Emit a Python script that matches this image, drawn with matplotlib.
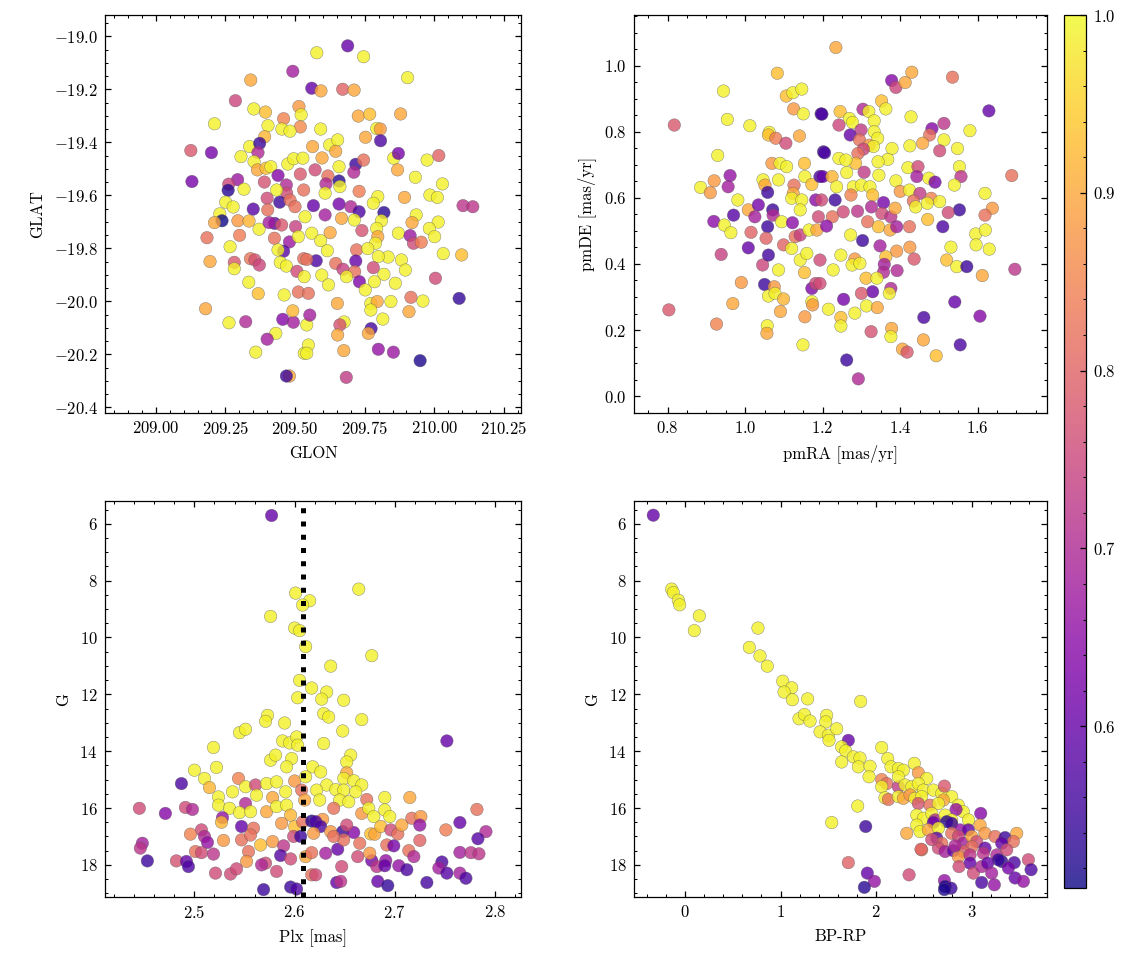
import numpy as np
import matplotlib as mpl
import matplotlib.pyplot as plt

mpl.rcParams.update({
    'font.family': 'serif',
    'font.serif': ['cmr10'],
    'mathtext.fontset': 'cm',
    'axes.formatter.use_mathtext': True,
    'axes.formatter.useoffset': False,
    'font.size': 8,
    'axes.linewidth': 0.6,
    'xtick.direction': 'in',
    'ytick.direction': 'in',
    'xtick.top': True,
    'ytick.right': True,
    'xtick.minor.visible': True,
    'ytick.minor.visible': True,
    'xtick.major.size': 3,
    'ytick.major.size': 3,
    'xtick.minor.size': 1.5,
    'ytick.minor.size': 1.5,
    'xtick.major.width': 0.6,
    'ytick.major.width': 0.6,
    'xtick.minor.width': 0.5,
    'ytick.minor.width': 0.5,
})

# ---- sky positions (GLON, GLAT) and membership probability ----
glon = [
    209.492, 209.341, 209.286, 209.352, 209.394, 209.211, 209.459, 209.514, 209.522, 209.403,
    209.519, 209.453, 209.482, 209.391, 209.126, 209.200, 209.337, 209.373, 209.367, 209.306,
    209.353, 209.130, 209.294, 209.262, 209.260, 209.317, 209.251, 209.278, 209.365, 209.396,
    209.413, 209.390, 209.439, 209.474, 209.495, 209.528, 209.519, 209.469, 209.470, 209.400,
    209.445, 209.402, 209.350, 209.434, 209.482, 209.500, 209.531, 209.230, 209.238, 209.211,
    209.295, 209.335, 209.371, 209.427, 209.407, 209.452, 209.502, 209.536, 209.184, 209.301,
    209.267, 209.426, 209.480, 209.512, 209.459, 209.439, 209.195, 209.282, 209.282, 209.340,
    209.356, 209.372, 209.447, 209.469, 209.507, 209.531, 209.533, 209.334, 209.368, 209.461,
    209.512, 209.179, 209.263, 209.323, 209.456, 209.494, 209.492, 209.431, 209.400, 209.359,
    209.480, 209.469, 209.533, 209.542,
    209.578, 209.689, 209.746, 209.904, 209.560, 209.593, 209.671, 209.712, 209.727, 209.768,
    209.879, 209.592, 209.793, 209.806, 209.753, 209.807, 209.563, 209.624, 209.653, 209.646,
    209.597, 209.854, 209.871, 209.868, 209.718, 209.746, 209.711, 209.974, 210.016, 209.932,
    210.029, 209.572, 209.658, 209.618, 209.658, 209.611, 209.661, 209.730, 209.797, 209.781,
    209.893, 209.984, 210.011, 210.103, 210.138, 209.566, 209.608, 209.658, 209.700, 209.730,
    209.819, 209.608, 209.667, 209.713, 209.810, 209.935, 209.920, 210.014, 209.982, 209.793,
    209.871, 209.913, 209.925, 209.953, 210.001, 209.740, 209.797, 209.626, 209.560, 209.592,
    209.789, 210.032, 210.098, 209.616, 209.721, 209.761, 209.834, 209.799, 209.882, 209.896,
    209.576, 209.542, 209.646, 209.672, 209.718, 209.714, 209.781, 209.819, 209.731, 209.752,
    209.785, 209.860, 209.596, 209.620, 209.685, 210.004, 209.548, 209.652, 209.772, 209.795,
    209.844, 209.772, 209.916, 209.959, 209.909, 210.089, 209.553, 209.676, 209.661, 209.653,
    209.815, 209.773, 209.763, 209.799, 209.853, 209.675, 209.949, 209.548, 209.542, 209.684,
]
glat = [
    -19.132, -19.165, -19.243, -19.274, -19.286, -19.330, -19.311, -19.265, -19.296, -19.337,
    -19.342, -19.350, -19.358, -19.379, -19.431, -19.439, -19.416, -19.404, -19.439, -19.454,
    -19.473, -19.548, -19.541, -19.558, -19.581, -19.577, -19.626, -19.644, -19.504, -19.498,
    -19.492, -19.550, -19.525, -19.482, -19.462, -19.460, -19.520, -19.561, -19.592, -19.611,
    -19.626, -19.655, -19.652, -19.580, -19.618, -19.643, -19.580, -19.670, -19.696, -19.703,
    -19.696, -19.697, -19.728, -19.706, -19.703, -19.712, -19.718, -19.681, -19.760, -19.751,
    -19.794, -19.762, -19.776, -19.756, -19.811, -19.806, -19.850, -19.853, -19.877, -19.839,
    -19.844, -19.863, -19.853, -19.867, -19.887, -19.839, -19.907, -19.928, -19.971, -19.976,
    -19.965, -20.028, -20.081, -20.077, -20.068, -20.079, -20.036, -20.121, -20.143, -20.192,
    -20.282, -20.282, -20.196, -20.089,
    -19.062, -19.036, -19.077, -19.156, -19.196, -19.206, -19.200, -19.203, -19.301, -19.294,
    -19.293, -19.350, -19.348, -19.350, -19.381, -19.394, -19.416, -19.410, -19.391, -19.434,
    -19.459, -19.460, -19.442, -19.504, -19.483, -19.467, -19.513, -19.467, -19.450, -19.532,
    -19.557, -19.504, -19.492, -19.527, -19.546, -19.557, -19.567, -19.585, -19.605, -19.630,
    -19.608, -19.599, -19.608, -19.639, -19.643, -19.639, -19.592, -19.633, -19.643, -19.662,
    -19.665, -19.674, -19.687, -19.693, -19.696, -19.674, -19.703, -19.701, -19.725, -19.725,
    -19.743, -19.752, -19.781, -19.777, -19.756, -19.733, -19.756, -19.741, -19.743, -19.771,
    -19.781, -19.820, -19.825, -19.809, -19.806, -19.801, -19.833, -19.831, -19.844, -19.882,
    -19.847, -19.842, -19.857, -19.879, -19.848, -19.888, -19.873, -19.898, -19.926, -19.957,
    -19.926, -19.932, -19.901, -19.938, -19.907, -19.913, -19.970, -20.008, -20.008, -20.001,
    -20.001, -20.033, -19.985, -19.999, -20.039, -19.989, -20.052, -20.078, -20.089, -20.127,
    -20.067, -20.103, -20.121, -20.181, -20.192, -20.186, -20.224, -20.165, -20.196, -20.287,
]
prob_sky = [
    0.68, 0.90, 0.75, 0.99, 0.93, 0.99, 0.85, 0.88, 0.99, 0.99,
    0.86, 0.99, 0.99, 0.92, 0.78, 0.62, 0.99, 0.55, 0.70, 0.99,
    0.99, 0.62, 0.67, 0.75, 0.53, 0.99, 0.99, 0.99, 0.90, 0.93,
    0.99, 0.77, 0.64, 0.99, 0.99, 0.99, 0.78, 0.70, 0.76, 0.76,
    0.55, 0.82, 0.58, 0.99, 0.82, 0.82, 0.82, 0.99, 0.51, 0.90,
    0.88, 0.92, 0.99, 0.60, 0.68, 0.78, 0.74, 0.99, 0.82, 0.84,
    0.99, 0.82, 0.67, 0.99, 0.58, 0.99, 0.90, 0.78, 0.99, 0.83,
    0.77, 0.75, 0.99, 0.99, 0.76, 0.82, 0.99, 0.99, 0.93, 0.99,
    0.82, 0.90, 0.99, 0.70, 0.64, 0.68, 0.92, 0.99, 0.68, 0.99,
    0.90, 0.55, 0.99, 0.99,
    0.99, 0.60, 0.99, 0.99, 0.60, 0.90, 0.80, 0.90, 0.90, 0.93,
    0.90, 0.99, 0.99, 0.88, 0.90, 0.57, 0.90, 0.99, 0.99, 0.90,
    0.90, 0.99, 0.62, 0.90, 0.55, 0.82, 0.70, 0.99, 0.80, 0.99,
    0.99, 0.76, 0.99, 0.82, 0.53, 0.70, 0.99, 0.84, 0.99, 0.99,
    0.90, 0.99, 0.99, 0.72, 0.72, 0.60, 0.99, 0.62, 0.70, 0.57,
    0.53, 0.68, 0.90, 0.99, 0.99, 0.99, 0.90, 0.99, 0.99, 0.99,
    0.99, 0.67, 0.76, 0.84, 0.99, 0.77, 0.90, 0.90, 0.99, 0.99,
    0.99, 0.99, 0.93, 0.99, 0.82, 0.99, 0.99, 0.99, 0.99, 0.99,
    0.57, 0.82, 0.82, 0.74, 0.60, 0.82, 0.76, 0.99, 0.63, 0.99,
    0.99, 0.99, 0.99, 0.99, 0.99, 0.76, 0.82, 0.90, 0.99, 0.90,
    0.99, 0.99, 0.82, 0.99, 0.90, 0.54, 0.68, 0.99, 0.77, 0.90,
    0.99, 0.56, 0.90, 0.66, 0.67, 0.90, 0.52, 0.99, 0.99, 0.73,
]

# ---- proper motions ----
pmra = [
    1.083, 0.944, 0.817, 0.803, 0.926, 0.954, 1.012, 0.929, 0.885, 0.910,
    0.920, 0.961, 0.956, 0.919, 0.946, 0.963, 0.938, 0.990, 0.968, 0.970,
    0.981, 1.008, 1.025, 1.034, 1.015, 1.008, 1.046, 1.051, 1.058, 1.071,
    1.058, 1.072, 1.054, 1.045, 1.060, 1.050, 1.060, 1.057, 1.056, 1.075,
    1.077, 1.086, 1.099, 1.091, 1.062, 1.060, 1.079, 1.105, 1.106, 1.123,
    1.146, 1.125, 1.150, 1.140, 1.069, 1.090, 1.107, 1.086, 1.126, 1.124,
    1.120, 1.146, 1.153, 1.154, 1.172, 1.142, 1.094, 1.122, 1.099, 1.129,
    1.142, 1.120, 1.142, 1.159, 1.153, 1.172, 1.182, 1.172, 1.174, 1.154,
    1.149, 1.196, 1.193, 1.182, 1.189, 1.202, 1.165, 1.185,
    1.234, 1.378, 1.389, 1.413, 1.430, 1.535, 1.629, 1.198, 1.245, 1.304,
    1.352, 1.363, 1.319, 1.269, 1.333, 1.242, 1.277, 1.299, 1.333, 1.271,
    1.295, 1.342, 1.320, 1.331, 1.305, 1.291, 1.428, 1.482, 1.513, 1.476,
    1.580, 1.458, 1.425, 1.513, 1.502, 1.548, 1.205, 1.379, 1.368, 1.343,
    1.285, 1.242, 1.260, 1.420, 1.446, 1.443, 1.474, 1.490, 1.553, 1.557,
    1.540, 1.688, 1.200, 1.224, 1.262, 1.307, 1.345, 1.389, 1.236, 1.279,
    1.300, 1.322, 1.329, 1.400, 1.424, 1.451, 1.480, 1.470, 1.502, 1.434,
    1.440, 1.232, 1.273, 1.197, 1.619, 1.638, 1.619, 1.553, 1.524, 1.357,
    1.326, 1.290, 1.253, 1.225, 1.210, 1.353, 1.376, 1.387, 1.316, 1.344,
    1.374, 1.391, 1.424, 1.471, 1.510, 1.595, 1.620, 1.596, 1.630, 1.531,
    1.520, 1.546, 1.572, 1.612, 1.696, 1.425, 1.436, 1.391, 1.348, 1.303,
    1.272, 1.247, 1.227, 1.283, 1.276, 1.296, 1.363, 1.359, 1.357, 1.392,
    1.312, 1.329, 1.300, 1.376, 1.372, 1.340, 1.313, 1.283, 1.341, 1.215,
    1.247, 1.247, 1.254, 1.325, 1.378, 1.376, 1.460, 1.461, 1.541, 1.606,
    1.555, 1.406, 1.418, 1.493, 1.262, 1.292, 1.193, 1.193,
]
pmde = [
    0.978, 0.924, 0.821, 0.261, 0.218, 0.838, 0.819, 0.729, 0.632, 0.616,
    0.652, 0.668, 0.634, 0.529, 0.518, 0.495, 0.429, 0.344, 0.280, 0.548,
    0.594, 0.564, 0.543, 0.579, 0.496, 0.449, 0.655, 0.639, 0.617, 0.564,
    0.513, 0.548, 0.478, 0.397, 0.427, 0.338, 0.303, 0.213, 0.190, 0.331,
    0.311, 0.382, 0.294, 0.256, 0.799, 0.791, 0.781, 0.766, 0.909, 0.919,
    0.930, 0.870, 0.855, 0.788, 0.705, 0.705, 0.695, 0.655, 0.639, 0.614,
    0.599, 0.594, 0.705, 0.665, 0.641, 0.564, 0.528, 0.525, 0.458, 0.483,
    0.488, 0.447, 0.412, 0.432, 0.374, 0.326, 0.341, 0.286, 0.276, 0.240,
    0.155, 0.855, 0.665, 0.594, 0.543, 0.740, 0.503, 0.503,
    1.056, 0.956, 0.935, 0.950, 0.981, 0.966, 0.864, 0.854, 0.862, 0.869,
    0.894, 0.870, 0.862, 0.841, 0.834, 0.821, 0.829, 0.806, 0.801, 0.791,
    0.776, 0.781, 0.760, 0.756, 0.748, 0.735, 0.846, 0.810, 0.826, 0.791,
    0.804, 0.766, 0.758, 0.776, 0.743, 0.750, 0.737, 0.750, 0.717, 0.710,
    0.705, 0.720, 0.715, 0.692, 0.695, 0.665, 0.660, 0.648, 0.695, 0.665,
    0.639, 0.668, 0.665, 0.665, 0.677, 0.678, 0.669, 0.652, 0.634, 0.634,
    0.639, 0.634, 0.609, 0.620, 0.624, 0.614, 0.599, 0.584, 0.589, 0.591,
    0.573, 0.594, 0.609, 0.594, 0.614, 0.569, 0.548, 0.564, 0.556, 0.586,
    0.573, 0.560, 0.558, 0.543, 0.515, 0.553, 0.543, 0.569, 0.528, 0.513,
    0.503, 0.513, 0.513, 0.535, 0.513, 0.491, 0.503, 0.458, 0.445, 0.451,
    0.412, 0.392, 0.392, 0.365, 0.384, 0.451, 0.415, 0.439, 0.455, 0.471,
    0.488, 0.427, 0.382, 0.415, 0.397, 0.402, 0.422, 0.399, 0.375, 0.380,
    0.357, 0.316, 0.311, 0.326, 0.311, 0.357, 0.273, 0.251, 0.268, 0.263,
    0.238, 0.212, 0.293, 0.195, 0.205, 0.180, 0.170, 0.238, 0.285, 0.242,
    0.155, 0.142, 0.133, 0.122, 0.109, 0.052, 0.412, 0.341,
]
prob_pm = [
    0.93, 0.99, 0.78, 0.78, 0.85, 0.99, 0.99, 0.99, 0.99, 0.88,
    0.88, 0.66, 0.68, 0.65, 0.99, 0.99, 0.74, 0.88, 0.90, 0.58,
    0.99, 0.90, 0.68, 0.62, 0.80, 0.60, 0.99, 0.90, 0.55, 0.55,
    0.55, 0.70, 0.80, 0.75, 0.56, 0.55, 0.99, 0.99, 0.90, 0.88,
    0.99, 0.99, 0.92, 0.90, 0.99, 0.93, 0.84, 0.76, 0.93, 0.99,
    0.99, 0.88, 0.99, 0.90, 0.88, 0.99, 0.99, 0.99, 0.82, 0.90,
    0.99, 0.99, 0.93, 0.99, 0.93, 0.99, 0.99, 0.65, 0.80, 0.82,
    0.74, 0.99, 0.99, 0.99, 0.93, 0.63, 0.76, 0.99, 0.88, 0.88,
    0.99, 0.55, 0.57, 0.65, 0.76, 0.55, 0.99, 0.90,
    0.90, 0.64, 0.75, 0.90, 0.90, 0.82, 0.60, 0.57, 0.93, 0.70,
    0.93, 0.99, 0.99, 0.99, 0.99, 0.75, 0.99, 0.73, 0.99, 0.60,
    0.82, 0.99, 0.88, 0.99, 0.75, 0.82, 0.99, 0.64, 0.72, 0.82,
    0.99, 0.90, 0.99, 0.99, 0.76, 0.99, 0.57, 0.99, 0.99, 0.99,
    0.93, 0.99, 0.99, 0.99, 0.76, 0.68, 0.99, 0.62, 0.99, 0.72,
    0.99, 0.82, 0.60, 0.92, 0.99, 0.73, 0.99, 0.99, 0.99, 0.99,
    0.99, 0.99, 0.93, 0.88, 0.99, 0.73, 0.85, 0.99, 0.99, 0.82,
    0.99, 0.55, 0.85, 0.76, 0.99, 0.88, 0.82, 0.55, 0.76, 0.62,
    0.70, 0.72, 0.76, 0.82, 0.65, 0.76, 0.72, 0.90, 0.82, 0.93,
    0.90, 0.68, 0.82, 0.93, 0.57, 0.99, 0.99, 0.99, 0.99, 0.99,
    0.93, 0.99, 0.55, 0.90, 0.72, 0.88, 0.78, 0.88, 0.68, 0.55,
    0.99, 0.99, 0.99, 0.88, 0.99, 0.99, 0.93, 0.68, 0.70, 0.70,
    0.93, 0.60, 0.78, 0.70, 0.99, 0.99, 0.99, 0.99, 0.90, 0.99,
    0.93, 0.99, 0.62, 0.77, 0.90, 0.99, 0.90, 0.57, 0.60, 0.64,
    0.57, 0.90, 0.78, 0.93, 0.55, 0.70, 0.76, 0.76,
]

# ---- parallax vs G ----
plx = [
    2.577, 2.601, 2.664, 2.615, 2.608, 2.576, 2.600, 2.605, 2.611, 2.677,
    2.636, 2.605, 2.617, 2.632, 2.603, 2.627, 2.649,
    2.573, 2.571, 2.590, 2.545, 2.551, 2.519, 2.588, 2.595, 2.602, 2.603,
    2.576, 2.581, 2.597, 2.592, 2.500, 2.522, 2.510, 2.515, 2.544, 2.487,
    2.538, 2.524, 2.551, 2.561, 2.572, 2.582, 2.600, 2.611, 2.562, 2.578,
    2.591, 2.607, 2.551, 2.524, 2.535, 2.528, 2.527, 2.545, 2.556, 2.572,
    2.582, 2.592, 2.596, 2.610, 2.587, 2.600, 2.608, 2.617, 2.445, 2.471,
    2.491, 2.498, 2.547, 2.559, 2.507, 2.510, 2.513, 2.496, 2.529, 2.547,
    2.556, 2.566, 2.578, 2.589, 2.599, 2.606, 2.448, 2.446, 2.453, 2.482,
    2.492, 2.494, 2.501, 2.507, 2.519, 2.554, 2.552, 2.571, 2.567, 2.586,
    2.596, 2.582, 2.611, 2.521, 2.536, 2.542, 2.617, 2.569, 2.596, 2.602,
    2.629, 2.634, 2.667, 2.648, 2.629, 2.752, 2.656, 2.652, 2.618, 2.626,
    2.652, 2.649, 2.659, 2.667, 2.632, 2.641, 2.649, 2.661, 2.622, 2.625,
    2.645, 2.654, 2.672, 2.639, 2.667, 2.674, 2.679, 2.690, 2.690, 2.695,
    2.715, 2.628, 2.621, 2.626, 2.619, 2.636, 2.648, 2.659, 2.652, 2.665,
    2.676, 2.680, 2.686, 2.696, 2.703, 2.707, 2.717, 2.726, 2.725, 2.692,
    2.699, 2.714, 2.719, 2.725, 2.751, 2.765, 2.782, 2.791, 2.783, 2.765,
    2.776, 2.784, 2.747, 2.744, 2.752, 2.765, 2.771, 2.732, 2.704, 2.712,
    2.677, 2.691, 2.682, 2.690, 2.683, 2.693, 2.647, 2.642, 2.646, 2.631,
    2.643, 2.621, 2.617, 2.649, 2.639, 2.675, 2.663,
]
g_plx = [
    5.71, 8.44, 8.30, 8.71, 8.86, 9.26, 9.67, 9.76, 10.32, 10.64,
    11.01, 11.51, 11.78, 11.92, 12.12, 12.17, 12.21,
    12.74, 12.95, 13.01, 13.35, 13.23, 13.87, 13.64, 13.71, 13.50, 13.79,
    14.32, 14.14, 14.26, 14.55, 14.67, 14.57, 14.96, 15.28, 14.96, 15.14,
    15.43, 15.61, 15.25, 15.19, 15.14, 15.08, 15.05, 14.90, 15.55, 15.63,
    15.43, 15.37, 15.84, 15.90, 16.01, 16.34, 16.50, 16.16, 16.13, 16.13,
    15.95, 15.90, 16.25, 15.72, 16.54, 16.66, 16.49, 16.46, 16.01, 16.19,
    15.98, 16.05, 16.65, 16.71, 16.77, 17.00, 17.21, 16.92, 17.14, 17.12,
    16.95, 17.30, 17.18, 17.33, 17.00, 17.00, 17.24, 17.41, 17.86, 17.86,
    17.88, 18.06, 17.53, 17.57, 17.62, 17.53, 17.88, 17.94, 18.00, 17.67,
    17.79, 18.23, 17.71, 18.29, 18.32, 18.14, 18.35, 18.87, 18.78, 18.85,
    12.68, 12.80, 12.89, 13.29, 13.73, 13.64, 14.14, 14.38, 14.55, 14.73,
    14.76, 14.96, 15.04, 15.19, 15.19, 15.35, 15.37, 15.43, 15.37, 15.72,
    15.72, 15.78, 15.70, 16.01, 16.19, 16.01, 16.30, 15.63, 16.07, 16.30,
    15.63, 16.40, 16.48, 16.65, 16.89, 16.83, 16.83, 16.86, 16.60, 17.24,
    16.91, 16.92, 16.65, 16.77, 16.91, 16.60, 16.36, 16.30, 16.60, 17.30,
    17.33, 17.50, 17.71, 17.14, 16.77, 16.51, 16.05, 16.83, 17.08, 17.56,
    17.57, 17.61, 17.90, 18.11, 18.29, 18.29, 18.47, 18.62, 18.03, 18.17,
    17.85, 17.85, 18.06, 18.03, 18.58, 18.73, 18.06, 18.62, 18.58, 17.59,
    17.45, 18.35, 17.57, 17.12, 17.00, 17.59, 17.71,
]
prob_plx = [
    0.60, 0.99, 0.99, 0.99, 0.99, 0.99, 0.99, 0.99, 0.99, 0.99,
    0.99, 0.99, 0.99, 0.99, 0.99, 0.99, 0.99,
    0.99, 0.99, 0.99, 0.99, 0.99, 0.99, 0.99, 0.99, 0.99, 0.99,
    0.99, 0.99, 0.99, 0.99, 0.99, 0.99, 0.99, 0.92, 0.85, 0.57,
    0.99, 0.99, 0.99, 0.76, 0.99, 0.99, 0.88, 0.99, 0.99, 0.90,
    0.99, 0.82, 0.70, 0.99, 0.99, 0.66, 0.92, 0.99, 0.99, 0.90,
    0.99, 0.99, 0.92, 0.90, 0.88, 0.93, 0.82, 0.53, 0.76, 0.64,
    0.76, 0.70, 0.60, 0.82, 0.76, 0.70, 0.66, 0.85, 0.88, 0.82,
    0.82, 0.93, 0.88, 0.72, 0.76, 0.55, 0.68, 0.72, 0.55, 0.77,
    0.60, 0.57, 0.82, 0.76, 0.72, 0.82, 0.88, 0.76, 0.70, 0.58,
    0.76, 0.76, 0.90, 0.76, 0.76, 0.76, 0.82, 0.55, 0.55, 0.57,
    0.99, 0.99, 0.99, 0.99, 0.99, 0.60, 0.99, 0.99, 0.99, 0.99,
    0.90, 0.99, 0.99, 0.99, 0.99, 0.99, 0.99, 0.99, 0.99, 0.99,
    0.99, 0.99, 0.82, 0.82, 0.88, 0.99, 0.99, 0.99, 0.99, 0.99,
    0.90, 0.88, 0.57, 0.57, 0.88, 0.88, 0.55, 0.64, 0.76, 0.82,
    0.93, 0.90, 0.93, 0.76, 0.82, 0.90, 0.82, 0.88, 0.66, 0.82,
    0.62, 0.82, 0.70, 0.80, 0.84, 0.60, 0.82, 0.70, 0.58, 0.68,
    0.72, 0.72, 0.57, 0.68, 0.58, 0.68, 0.57, 0.56, 0.66, 0.57,
    0.62, 0.66, 0.72, 0.60, 0.60, 0.54, 0.76, 0.60, 0.72, 0.68,
    0.60, 0.76, 0.82, 0.82, 0.82, 0.88, 0.76,
]
plx_mean = 2.608

# ---- colour-magnitude diagram ----
bprp = [
    -0.332, -0.140, -0.122, -0.070, -0.056, 0.150, 0.098, 0.764, 0.674, 0.785,
    0.862, 1.023, 1.117, 1.037, 1.124, 1.284, 1.839, 1.194, 1.250, 1.309,
    1.483, 1.473, 1.414, 1.501, 1.588, 1.508, 1.710, 1.640, 1.682, 1.640,
    1.763, 1.832, 1.815, 1.937, 1.927, 2.059, 2.122, 2.157, 2.234, 2.286,
    2.401, 2.443, 2.531, 2.059, 2.112, 2.234, 2.234, 2.304, 2.374, 2.443,
    2.496, 2.059, 2.094, 2.129, 2.234, 2.286, 2.356, 2.408, 2.478, 2.600,
    2.688, 2.716, 2.792, 2.705, 2.443, 2.565, 2.653, 2.862, 2.914, 2.838,
    3.096, 2.426, 2.496, 2.583, 2.618, 2.723, 2.792, 2.968, 2.600, 2.740,
    2.792, 2.426, 2.461, 2.548, 2.653, 2.880, 2.967, 3.089, 2.321, 2.635,
    2.688, 2.792, 2.862, 2.914, 3.002, 3.054, 3.141, 3.246, 3.351, 3.473,
    3.438, 3.316, 3.141, 3.002, 2.914, 2.653, 2.723, 2.810, 2.478, 2.862,
    2.984, 3.124, 3.264, 3.368, 3.316, 3.281, 3.447, 3.595, 3.623, 2.984,
    2.869, 3.019, 3.106, 3.169, 3.211, 3.386, 3.456, 3.543, 3.106, 3.239,
    1.710, 1.909, 1.983, 1.878, 1.892, 1.808, 1.536, 2.346, 2.471, 2.716,
    2.723, 2.785, 2.716, 2.583, 2.827,
]
g_cmd = [
    5.70, 8.30, 8.42, 8.69, 8.85, 9.24, 9.76, 9.67, 10.35, 10.65,
    11.01, 11.54, 11.77, 11.92, 12.19, 12.16, 12.25, 12.86, 12.71, 12.94,
    12.74, 12.97, 13.32, 13.44, 13.21, 13.62, 13.62, 13.85, 13.99, 14.38,
    14.20, 14.24, 14.55, 14.53, 14.90, 13.87, 14.26, 14.55, 14.61, 14.67,
    14.43, 14.76, 14.96, 15.00, 15.14, 15.25, 14.90, 15.19, 15.25, 15.14,
    15.37, 15.25, 15.64, 15.70, 15.60, 15.66, 15.54, 15.66, 15.60, 15.37,
    15.49, 15.23, 15.60, 15.72, 15.84, 15.90, 15.84, 15.90, 16.13, 16.05,
    16.19, 16.25, 16.36, 16.19, 16.42, 16.25, 16.42, 16.42, 16.51, 16.48,
    16.54, 16.60, 16.83, 16.77, 16.71, 16.77, 16.77, 16.60, 16.89, 17.06,
    17.24, 16.89, 17.00, 17.24, 17.00, 17.18, 16.89, 17.00, 17.04, 16.89,
    17.18, 17.24, 17.41, 17.36, 17.53, 17.41, 17.53, 17.50, 17.47, 17.71,
    17.65, 17.59, 17.65, 17.47, 17.88, 17.82, 17.92, 17.82, 18.17, 17.94,
    18.06, 18.29, 18.06, 17.94, 18.29, 18.11, 18.46, 18.58, 18.62, 18.70,
    17.92, 18.29, 18.58, 18.79, 16.65, 15.93, 16.51, 18.35, 17.45, 18.55,
    18.76, 18.82, 18.87, 17.11, 17.33,
]
prob_cmd = [
    0.60, 0.99, 0.99, 0.99, 0.99, 0.99, 0.99, 0.99, 0.99, 0.99,
    0.99, 0.99, 0.99, 0.99, 0.99, 0.99, 0.99, 0.99, 0.99, 0.99,
    0.99, 0.99, 0.99, 0.99, 0.99, 0.99, 0.60, 0.99, 0.99, 0.99,
    0.99, 0.99, 0.99, 0.99, 0.99, 0.99, 0.99, 0.99, 0.99, 0.99,
    0.99, 0.88, 0.99, 0.85, 0.82, 0.73, 0.99, 0.99, 0.99, 0.99,
    0.99, 0.99, 0.99, 0.82, 0.99, 0.90, 0.88, 0.99, 0.99, 0.99,
    0.99, 0.78, 0.99, 0.90, 0.77, 0.82, 0.99, 0.99, 0.99, 0.66,
    0.64, 0.99, 0.99, 0.99, 0.70, 0.99, 0.99, 0.99, 0.60, 0.53,
    0.55, 0.99, 0.99, 0.90, 0.99, 0.66, 0.60, 0.90, 0.90, 0.58,
    0.82, 0.82, 0.76, 0.68, 0.90, 0.76, 0.88, 0.82, 0.55, 0.90,
    0.82, 0.60, 0.60, 0.82, 0.80, 0.76, 0.68, 0.60, 0.85, 0.88,
    0.72, 0.72, 0.70, 0.76, 0.54, 0.54, 0.57, 0.76, 0.57, 0.60,
    0.76, 0.76, 0.70, 0.60, 0.68, 0.62, 0.60, 0.66, 0.57, 0.66,
    0.80, 0.60, 0.66, 0.53, 0.55, 0.99, 0.99, 0.76, 0.80, 0.66,
    0.52, 0.55, 0.52, 0.76, 0.70,
]

prob_min, prob_max = 0.509, 1.0

W, H = 1133, 965
fig = plt.figure(figsize=(W / 150, H / 150), dpi=150)

# axes placed from pixel boxes (left, top, right, bottom)
def px_axes(l, t, r, b):
    return fig.add_axes([l / W, 1 - b / H, (r - l) / W, (b - t) / H])

ax_sky = px_axes(105, 15, 521, 413)
ax_pm = px_axes(634, 15, 1047, 413)
ax_plx = px_axes(105, 501, 521, 897)
ax_cmd = px_axes(634, 501, 1047, 897)
cax = px_axes(1064, 15, 1086, 888)

kw = dict(cmap='plasma', vmin=prob_min, vmax=prob_max, s=36, alpha=0.8,
          edgecolors='0.35', linewidths=0.2)

sc = ax_sky.scatter(glon, glat, c=prob_sky, **kw)
ax_sky.set_xlim(208.818, 210.311)
ax_sky.set_ylim(-20.4215, -18.9196)
ax_sky.xaxis.set_major_locator(mpl.ticker.MultipleLocator(0.25))
ax_sky.yaxis.set_major_locator(mpl.ticker.MultipleLocator(0.2))
ax_sky.set_xlabel('GLON')
ax_sky.set_ylabel('GLAT')

ax_pm.scatter(pmra, pmde, c=prob_pm, **kw)
ax_pm.set_xlim(0.713, 1.779)
ax_pm.set_ylim(-0.0515, 1.1545)
ax_pm.xaxis.set_major_locator(mpl.ticker.MultipleLocator(0.2))
ax_pm.yaxis.set_major_locator(mpl.ticker.MultipleLocator(0.2))
ax_pm.set_xlabel('pmRA [mas/yr]')
ax_pm.set_ylabel('pmDE [mas/yr]')

ax_plx.scatter(plx, g_plx, c=prob_plx, **kw)
ax_plx.axvline(plx_mean, color='k', linestyle=':', linewidth=2.4)
ax_plx.set_xlim(2.4107, 2.826)
ax_plx.set_ylim(19.13, 5.2)
ax_plx.xaxis.set_major_locator(mpl.ticker.MultipleLocator(0.1))
ax_plx.yaxis.set_major_locator(mpl.ticker.MultipleLocator(2))
ax_plx.set_xlabel('Plx [mas]')
ax_plx.set_ylabel('G')

ax_cmd.scatter(bprp, g_cmd, c=prob_cmd, **kw)
ax_cmd.set_xlim(-0.534, 3.79)
ax_cmd.set_ylim(19.13, 5.2)
ax_cmd.xaxis.set_major_locator(mpl.ticker.MultipleLocator(1))
ax_cmd.yaxis.set_major_locator(mpl.ticker.MultipleLocator(2))
ax_cmd.set_xlabel('BP-RP')
ax_cmd.set_ylabel('G')

cb = fig.colorbar(sc, cax=cax)
cb.outline.set_linewidth(0.6)
cb.ax.yaxis.set_major_locator(mpl.ticker.MultipleLocator(0.1))
cb.ax.minorticks_on()
cb.ax.tick_params(which='both', direction='in')

fig.savefig('out.png', dpi=150)
